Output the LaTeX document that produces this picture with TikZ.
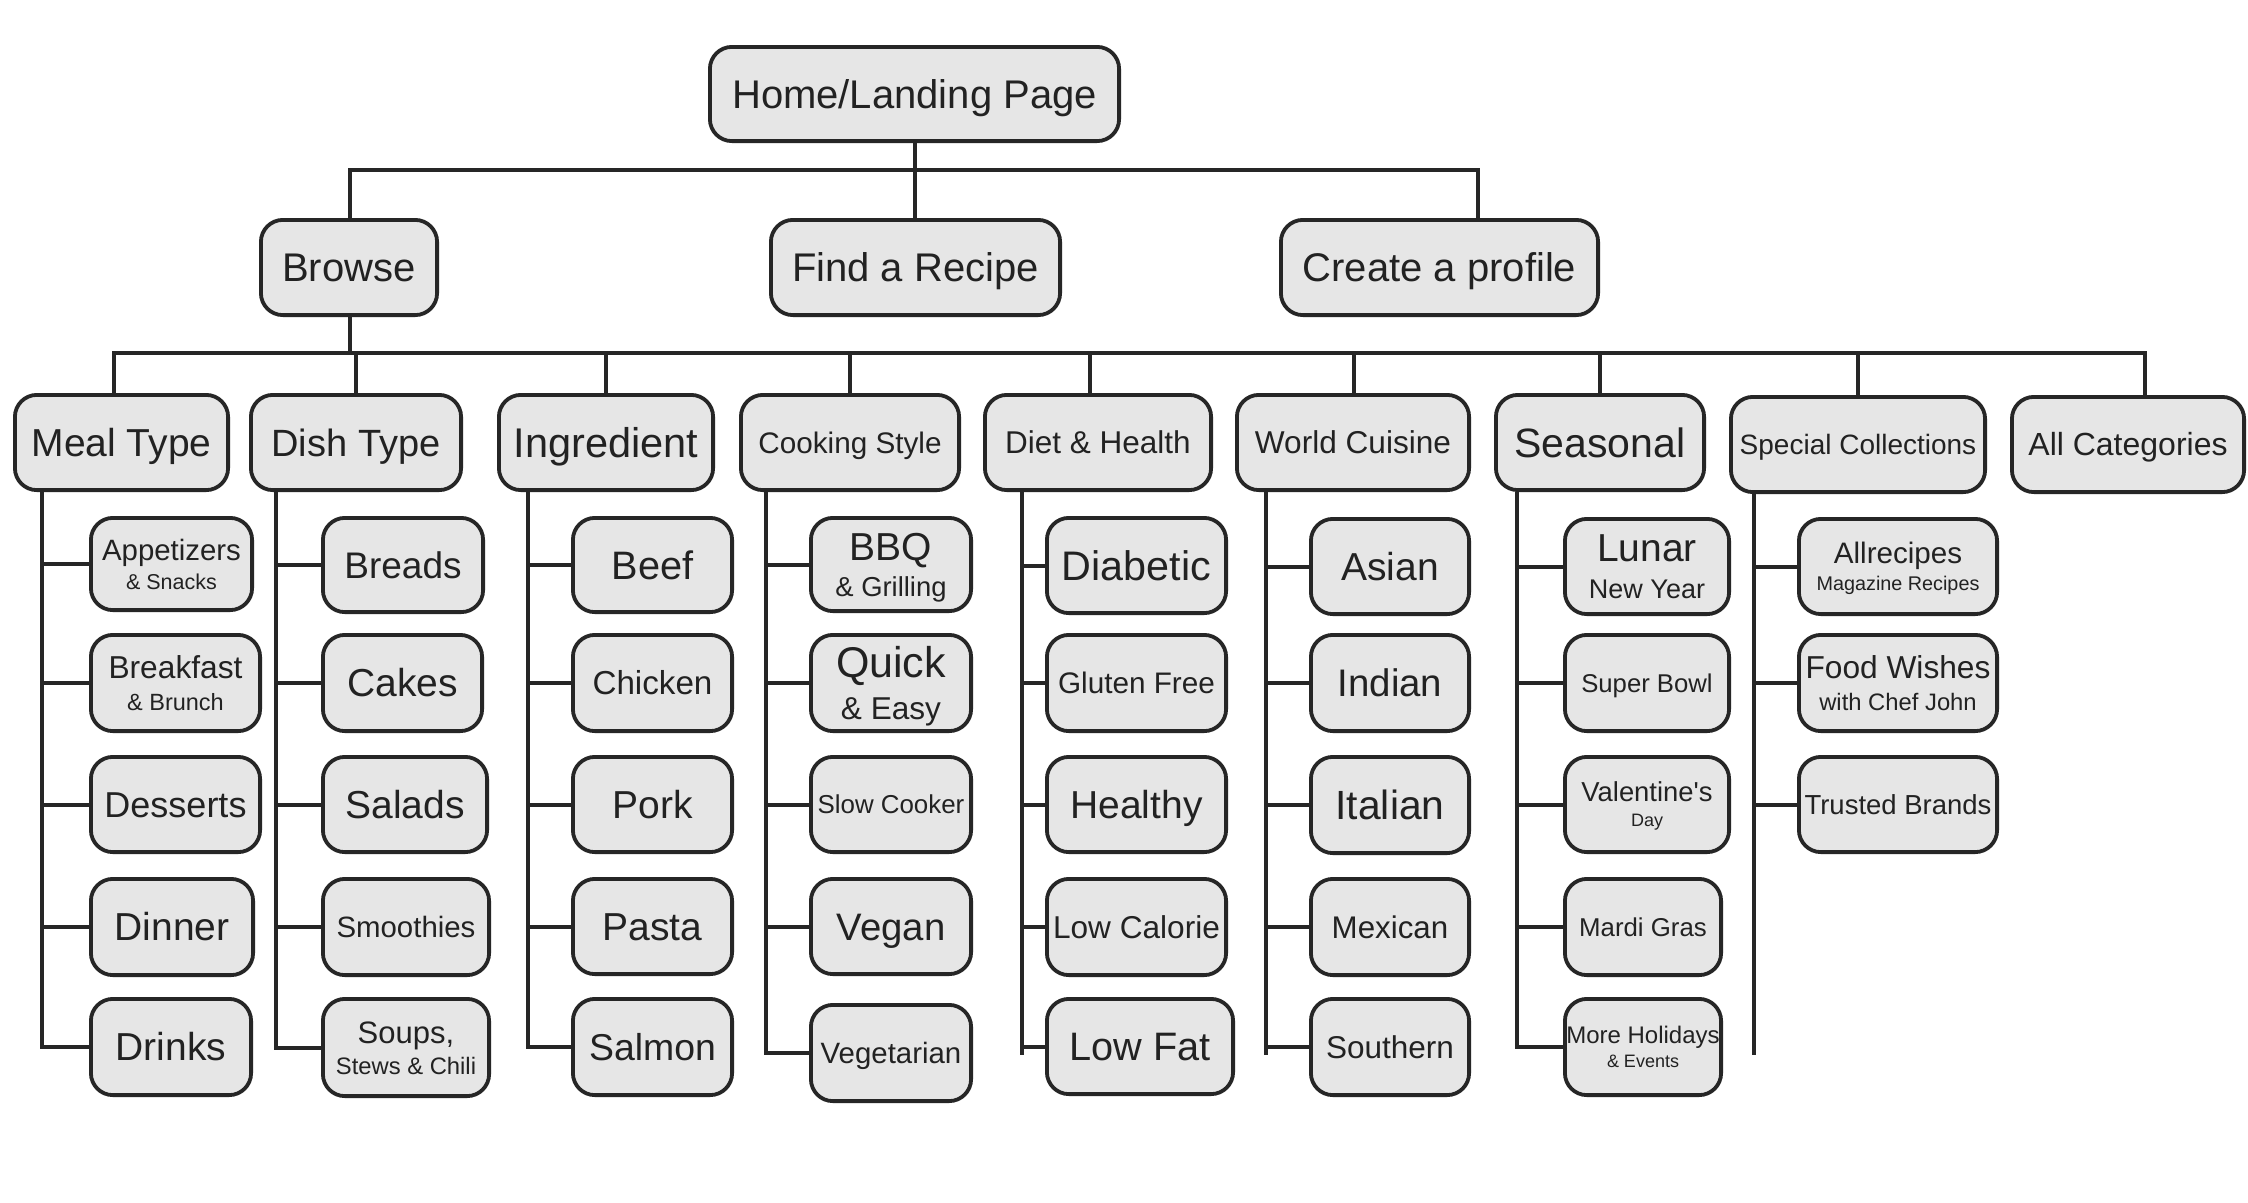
\documentclass[tikz,border=0pt]{standalone}
\usepackage{fontspec}
\setmainfont{Liberation Sans}
\definecolor{boxfill}{HTML}{E6E6E6}
\definecolor{linec}{HTML}{262626}
\definecolor{textc}{HTML}{222222}

% font size in px-sized points
\newcommand\fs[1]{\fontsize{#1pt}{#1pt}\selectfont}
% one line, boxed from cap top to baseline so it centres on the cap height
\newcommand\one[2]{\setbox0=\hbox{\fs{#1}#2}\ht0=\dimexpr#1pt*716/1000\relax\dp0=0pt\box0}
% two centred lines: size1, text1, size2, text2, baseline distance
\newcommand\two[5]{%
  \setbox1=\hbox{\fs{#1}#2}\setbox2=\hbox{\fs{#3}#4}%
  \dimen0=\wd1 \ifdim\wd2>\dimen0 \dimen0=\wd2 \fi
  \ht1=\dimexpr#1pt*716/1000\relax \dp1=0pt \ht2=0pt \dp2=0pt
  \vbox{\offinterlineskip\hbox to\dimen0{\hss\box1\hss}\kern#5pt\hbox to\dimen0{\hss\box2\hss}}}

\begin{document}
\begin{tikzpicture}[x=1pt,y=-1pt,
  catbox/.style={draw=linec, fill=boxfill, line width=3.8pt, rounded corners=22pt,
    inner sep=0pt, text=textc},
  conn/.style={draw=linec, line width=4pt}]
% box from outer corners (x1,y1)-(x2,y2)
\newcommand\bx[6]{\node[catbox, minimum width={#4-#2-3.8}, minimum height={#5-#3-3.8}]
  (#1) at ({(#2+#4)/2},{(#3+#5)/2}) {#6};}

\fill[white] (0,0) rectangle (2248,1202);
\useasboundingbox (0,0) rectangle (2248,1202);

% top levels
\bx{home}{708}{45}{1121}{143}{\one{40}{Home/Landing Page}}
\bx{browse}{259}{218}{439}{317}{\one{40}{Browse}}
\bx{find}{769}{218}{1062}{317}{\one{40}{Find a Recipe}}
\bx{create}{1279}{218}{1600}{317}{\one{40}{Create a profile}}

% categories
\bx{meal}{13}{393}{230}{492}{\one{39}{Meal Type}}
\bx{dish}{249}{393}{463}{492}{\one{38}{Dish Type}}
\bx{ingr}{497}{393}{715}{492}{\one{41.5}{Ingredient}}
\bx{cook}{739}{393}{961}{492}{\one{29.7}{Cooking Style}}
\bx{diet}{983}{393}{1213}{492}{\one{31.5}{Diet \& Health}}
\bx{world}{1235}{393}{1471}{492}{\one{31.6}{World Cuisine}}
\bx{seas}{1494}{393}{1706}{492}{\one{41}{Seasonal}}
\bx{spec}{1729}{395}{1987}{494}{\one{28}{Special Collections}}
\bx{allc}{2010}{395}{2246}{494}{\one{32}{All Categories}}

% meal type
\bx{appet}{89}{516}{254}{612}{\two{29.4}{Appetizers}{21.5}{\& Snacks}{29}}
\bx{brkf}{89}{633}{262}{733}{\two{31.7}{Breakfast}{23.5}{\& Brunch}{32}}
\bx{dess}{89}{755}{262}{854}{\one{36}{Desserts}}
\bx{dinner}{89}{877}{255}{977}{\one{39}{Dinner}}
\bx{drinks}{89}{997}{253}{1097}{\one{39}{Drinks}}

% dish type
\bx{breads}{321}{516}{485}{614}{\one{37}{Breads}}
\bx{cakes}{321}{633}{484}{733}{\one{39}{Cakes}}
\bx{salads}{321}{755}{489}{854}{\one{39}{Salads}}
\bx{smooth}{321}{877}{491}{977}{\one{29.4}{Smoothies}}
\bx{soups}{321}{997}{491}{1098}{\two{31}{Soups,}{23.8}{Stews \& Chili}{31}}

% ingredient
\bx{beef}{571}{516}{734}{614}{\one{39.7}{Beef}}
\bx{chicken}{571}{633}{734}{733}{\one{33.2}{Chicken}}
\bx{pork}{571}{755}{734}{854}{\one{39}{Pork}}
\bx{pasta}{571}{877}{734}{976}{\one{39}{Pasta}}
\bx{salmon}{571}{997}{734}{1097}{\one{37.4}{Salmon}}

% cooking style
\bx{bbq}{809}{516}{973}{613}{\two{39}{BBQ}{27.4}{\& Grilling}{36}}
\bx{quick}{809}{633}{973}{733}{\two{43}{Quick}{31.6}{\& Easy}{42}}
\bx{slow}{809}{755}{973}{854}{\one{25.9}{Slow Cooker}}
\bx{vegan}{809}{877}{973}{976}{\one{38.3}{Vegan}}
\bx{veget}{809}{1003}{973}{1103}{\one{29.4}{Vegetarian}}

% diet & health
\bx{diabetic}{1045}{516}{1228}{615}{\one{41.3}{Diabetic}}
\bx{gluten}{1045}{633}{1228}{733}{\one{29.7}{Gluten Free}}
\bx{healthy}{1045}{755}{1228}{854}{\one{39}{Healthy}}
\bx{lowcal}{1045}{877}{1228}{977}{\one{31.6}{Low Calorie}}
\bx{lowfat}{1045}{997}{1235}{1096}{\one{39.7}{Low Fat}}

% world cuisine
\bx{asian}{1309}{517}{1471}{616}{\one{39}{Asian}}
\bx{indian}{1309}{633}{1471}{733}{\one{38.4}{Indian}}
\bx{italian}{1309}{755}{1471}{855}{\one{40.8}{Italian}}
\bx{mexican}{1309}{877}{1471}{977}{\one{31.3}{Mexican}}
\bx{southern}{1309}{997}{1471}{1097}{\one{31.5}{Southern}}

% seasonal
\bx{lunar}{1563}{517}{1731}{616}{\two{39}{Lunar}{27}{New Year}{37}}
\bx{superb}{1563}{633}{1731}{733}{\one{25.7}{Super Bowl}}
\bx{valen}{1563}{755}{1731}{854}{\two{27.4}{Valentine\textquotesingle s}{18}{Day}{25}}
\bx{mardi}{1563}{877}{1723}{977}{\one{25.8}{Mardi Gras}}
\bx{moreh}{1563}{997}{1723}{1097}{\two{24}{More Holidays}{18}{\& Events}{24}}

% special collections
\bx{allrec}{1797}{517}{1999}{616}{\two{29.6}{Allrecipes}{19.8}{Magazine Recipes}{27}}
\bx{foodw}{1797}{633}{1999}{733}{\two{31.7}{Food Wishes}{23.8}{with Chef John}{32}}
\bx{trusted}{1797}{755}{1999}{854}{\one{27.5}{Trusted Brands}}

% ---- connectors ----
\coordinate (b1) at (350,170);
\coordinate (b1r) at (1478,170);
\draw[conn] (home.south) -- (home.south |- find.north);
\draw[conn] (browse.north -| b1) -- (b1) -- (b1r) -- (b1r |- create.north);

\coordinate (b2l) at (114,353);
\coordinate (b2r) at (2145,353);
\draw[conn] (browse.south -| b1) -- (b1 |- b2l);
\draw[conn] (b2l |- meal.north) -- (b2l) -- (b2r) -- (b2r |- allc.north);
\foreach \x/\n in {356/dish, 606/ingr, 850/cook, 1090/diet, 1354/world, 1600/seas, 1858/spec}
  \draw[conn] (\x,353) -- (\x,353 |- \n.north);

% column spines and branches
\coordinate (vM) at (42,0);
\coordinate (vD) at (276,0);
\coordinate (vI) at (528,0);
\coordinate (vC) at (766,0);
\coordinate (vH) at (1022,0);
\coordinate (vW) at (1266,0);
\coordinate (vS) at (1517,0);
\coordinate (vP) at (1754,0);

\draw[conn] (vM |- meal.south) -- (vM |- drinks.west) -- (drinks.west);
\foreach \n in {appet, brkf, dess, dinner} \draw[conn] (vM |- \n.west) -- (\n.west);

\draw[conn] (vD |- dish.south) -- (vD |- soups.west) -- (soups.west);
\foreach \n in {breads, cakes, salads, smooth} \draw[conn] (vD |- \n.west) -- (\n.west);

\draw[conn] (vI |- ingr.south) -- (vI |- salmon.west) -- (salmon.west);
\foreach \n in {beef, chicken, pork, pasta} \draw[conn] (vI |- \n.west) -- (\n.west);

\draw[conn] (vC |- cook.south) -- (vC |- veget.west) -- (veget.west);
\foreach \n in {bbq, quick, slow, vegan} \draw[conn] (vC |- \n.west) -- (\n.west);

\coordinate (hEnd) at (1022,1055);
\draw[conn] (vH |- diet.south) -- (hEnd);
\foreach \n in {diabetic, gluten, healthy, lowcal, lowfat} \draw[conn] (vH |- \n.west) -- (\n.west);

\coordinate (wEnd) at (1266,1055);
\draw[conn] (vW |- world.south) -- (wEnd);
\foreach \n in {asian, indian, italian, mexican, southern} \draw[conn] (vW |- \n.west) -- (\n.west);

\draw[conn] (vS |- seas.south) -- (vS |- moreh.west) -- (moreh.west);
\foreach \n in {lunar, superb, valen, mardi} \draw[conn] (vS |- \n.west) -- (\n.west);

\coordinate (pEnd) at (1754,1055);
\draw[conn] (vP |- spec.south) -- (pEnd);
\foreach \n in {allrec, foodw, trusted} \draw[conn] (vP |- \n.west) -- (\n.west);
\end{tikzpicture}
\end{document}
